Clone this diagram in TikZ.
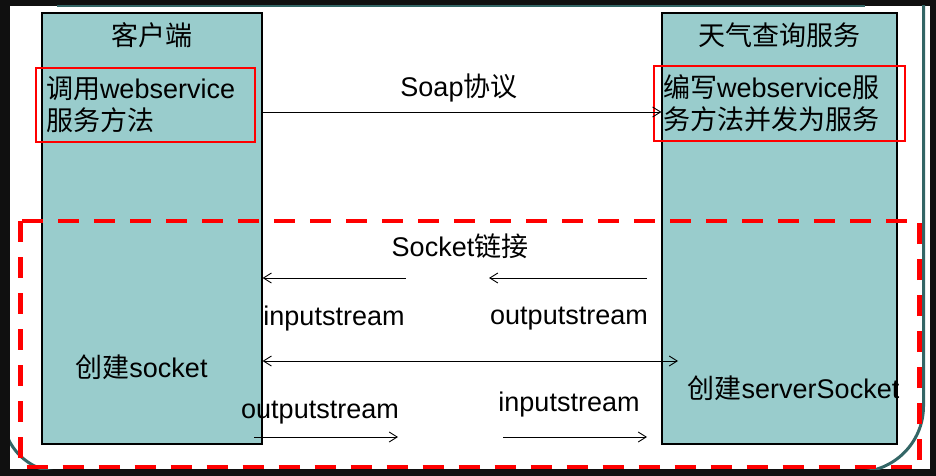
\documentclass[tikz,border=0pt]{standalone}
\usepackage{fontspec}
\setmainfont{Liberation Sans}
\newfontfamily\cjk{Noto Sans CJK SC}
\newcommand{\zh}[1]{{\cjk #1}}
\usetikzlibrary{arrows.meta}
\definecolor{boxfill}{RGB}{153,204,204}
\definecolor{rimgreen}{RGB}{51,102,102}
\definecolor{screenblack}{RGB}{16,16,16}

\begin{document}
\begin{tikzpicture}[
      x = 1pt, y = -1pt,
      >={Straight Barb[length=8pt, width=10pt]},
      font = {\fontsize{27}{32}\selectfont},
      peer/.style = {
        draw = black, line width = 1.2pt, fill = boxfill,
        minimum width = 220pt, minimum height = 431pt
      },
      task/.style = {
        draw = red, line width = 1.4pt, align = left,
        inner ysep = 0pt
      },
      txt/.style = { inner sep = 0pt },
      stream/.style = { line width = 0.9pt },
      rim/.style = { rimgreen, line width = 3pt },
    ]

    %% screen edge
    \fill[screenblack] (0,0) rectangle (936,476);
    \fill[white] (10,6) rectangle (930,469);
    \draw[rimgreen, line width = 2pt] (57,6.5) -- (865,6.5);
    \begin{scope}
      \clip (10,6) rectangle (930,469);
      \draw[rim] (3,415) arc[start angle = 180, end angle = 270, radius = 57pt];
      \draw[rim] (923.5,0) -- (923.5,406) arc[start angle = 0, end angle = -90, radius = 66pt];
    \end{scope}

    %% client and service
    \node[peer] (client) at (152,228.5) {};
    \node[peer, minimum width = 235pt] (server) at (779.5,228.5) {};

    \node[txt] (clienttitle) at (151.5,35) {\zh{客户端}};
    \node[txt] (servertitle) at (779.5,35) {\zh{天气查询服务}};

    \node[task, text width = 199pt, inner xsep = 10pt, minimum height = 74pt] (call) at (145.5,105)
      {\zh{调用}webservice\\\zh{服务方法}};
    \node[task, text width = 233pt, inner xsep = 9pt, minimum height = 75pt] (publish) at (779.5,103.5)
      {\zh{编写}webservice\zh{服}\\\zh{务方法并发为服务}};

    %% soap
    \node[txt] (soap) at (459,88) {Soap\zh{协议}};
    \coordinate (soaprow) at (0,112);
    \draw[stream, ->] (client.east |- soaprow) -- (server.west |- soaprow);

    %% socket
    \node[txt] (socket) at (460,246) {Socket\zh{链接}};

    \node[txt] (clientin) at (334,318.5) {inputstream};
    \node[txt] (serverout) at (569,318.5) {outputstream};
    \coordinate (inA) at (406,278);
    \coordinate (outA) at (647,278);
    \coordinate (outB) at (489,278);
    \draw[stream, <-] (client.east |- inA) -- (inA);
    \draw[stream, <-] (outB) -- (outA);

    \node[txt] (clientsock) at (141.5,367.5) {\zh{创建}socket};
    \node[txt] (serversock) at (793.5,388) {\zh{创建}serverSocket};
    \coordinate (link) at (678,361);
    \draw[stream, <->] (client.east |- link) -- (link);

    \node[txt] (clientout) at (320,412.5) {outputstream};
    \node[txt] (serverin) at (569,404.5) {inputstream};
    \coordinate (outC) at (254,437);
    \coordinate (outD) at (398,437);
    \coordinate (inC) at (503,437);
    \coordinate (inD) at (647,437);
    \draw[stream, ->] (outC) -- (outD);
    \draw[stream, ->] (inC) -- (inD);

    %% socket area
    \draw[red, line width = 4.5pt, dash pattern = on 21pt off 15pt] (20.5,221) rectangle (919.5,467);
  \end{tikzpicture}
\end{document}
